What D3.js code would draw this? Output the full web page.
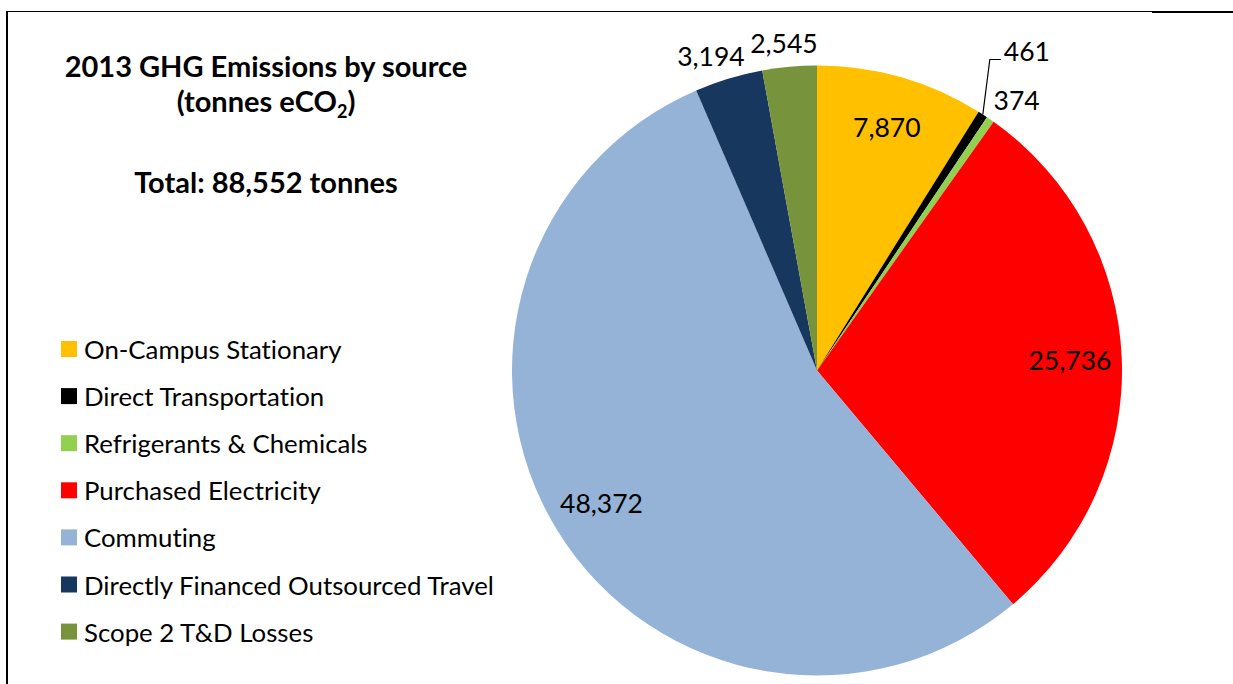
<!DOCTYPE html>
<html>
<head>
<meta charset="utf-8">
<script src="https://cdn.jsdelivr.net/npm/d3@7"></script>
<style>
  body { margin: 0; background: #fff; }
  text { font-family: Lato, "Open Sans", sans-serif; fill: #000; font-variant-ligatures: none; }
</style>
</head>
<body>
<div id="chart"></div>
<script>
// DATA
const sources = [
  "On-Campus Stationary",
  "Direct Transportation",
  "Refrigerants & Chemicals",
  "Purchased Electricity",
  "Commuting",
  "Directly Financed Outsourced Travel",
  "Scope 2 T&D Losses"
];
const tonnes = [7870, 461, 374, 25736, 48372, 3194, 2545];
const colors = ["#FFC000", "#000000", "#92D050", "#FF0000", "#95B3D7", "#17375E", "#77933C"];
const outsideLabels = ["Refrigerants & Chemicals", "Directly Financed Outsourced Travel", "Scope 2 T&D Losses"];
const leaderLabels = ["Direct Transportation"];

// CONSTANTS
const width = 1233,
  height = 684,
  cx = 817,
  cy = 370.5,
  radius = 305;

const data = sources.map((s, i) => ({ source: s, value: tonnes[i] }));
const total = d3.sum(tonnes);
const fmt = d3.format(",");

const svg = d3.select("#chart")
  .append("svg")
  .attr("width", width)
  .attr("height", height);

// frame lines
svg.append("line").attr("x1", 7).attr("x2", 1233).attr("y1", 11.5).attr("y2", 11.5)
  .attr("stroke", "#000").attr("stroke-width", 1);
svg.append("line").attr("x1", 1152).attr("x2", 1233).attr("y1", 12).attr("y2", 12)
  .attr("stroke", "#000").attr("stroke-width", 2);
svg.append("line").attr("x1", 7).attr("x2", 7).attr("y1", 11).attr("y2", 684)
  .attr("stroke", "#000").attr("stroke-width", 2);

// PIE
const color = d3.scaleOrdinal().domain(sources).range(colors);
const pie = d3.pie().value(d => d.value).sort(null);
const arcs = pie(data);
const arc = d3.arc().innerRadius(0).outerRadius(radius);

const g = svg.append("g").attr("transform", `translate(${cx},${cy})`);

g.selectAll("path.slice")
  .data(arcs)
  .join("path")
  .attr("class", "slice")
  .attr("d", arc)
  .attr("fill", d => color(d.data.source));

// LABELS
const polar = (r, a) => [r * Math.sin(a), -r * Math.cos(a)];
const mid = d => (d.startAngle + d.endAngle) / 2;

arcs.forEach(d => {
  const a = mid(d);
  const label = g.append("text")
    .attr("font-size", 26.5)
    .text(fmt(d.data.value));

  if (leaderLabels.includes(d.data.source)) {
    const [ex, ey] = polar(radius, a);
    const kx = ex + 7, ky = ey - 55;
    g.append("polyline")
      .attr("points", [[ex, ey], [kx, ky], [kx + 11, ky]].map(p => p.join(",")).join(" "))
      .attr("fill", "none")
      .attr("stroke", "#000")
      .attr("stroke-width", 1.2);
    label.attr("x", kx + 14).attr("y", ky + 1);
  } else if (outsideLabels.includes(d.data.source)) {
    const bb = label.node().getBBox();
    const [px, py] = polar(radius + 14, a);
    label
      .attr("text-anchor", "middle")
      .attr("dominant-baseline", "central")
      .attr("x", px + bb.width / 2 * Math.sin(a) * 1.4)
      .attr("y", py - bb.height / 2 * 0.6 * Math.cos(a));
  } else {
    const [px, py] = polar(radius * 0.83, a);
    label
      .attr("text-anchor", "middle")
      .attr("dominant-baseline", "central")
      .attr("x", px)
      .attr("y", py);
  }
});

// TITLE
const title = svg.append("text")
  .attr("text-anchor", "middle")
  .attr("font-weight", "bold")
  .attr("font-size", 29);
title.append("tspan").attr("x", 266).attr("y", 77).text("2013 GHG Emissions by source");
const line2 = title.append("tspan").attr("x", 266).attr("y", 112);
line2.append("tspan").text("(tonnes eCO");
line2.append("tspan").attr("font-size", 18).attr("dy", 6).text("2");
line2.append("tspan").attr("dy", -6).text(")");
title.append("tspan").attr("x", 266).attr("y", 193).text(`Total: ${fmt(total)} tonnes`);

// LEGEND
const legend = svg.append("g")
  .selectAll("g")
  .data(sources)
  .join("g")
  .attr("transform", (d, i) => `translate(61, ${349 + i * 47.1})`);

legend.append("rect")
  .attr("x", 0)
  .attr("y", -8)
  .attr("width", 16)
  .attr("height", 16)
  .attr("fill", d => color(d));

legend.append("text")
  .attr("x", 23)
  .attr("y", 0)
  .attr("dominant-baseline", "central")
  .attr("font-size", 25.8)
  .text(d => d);
</script>
</body>
</html>
